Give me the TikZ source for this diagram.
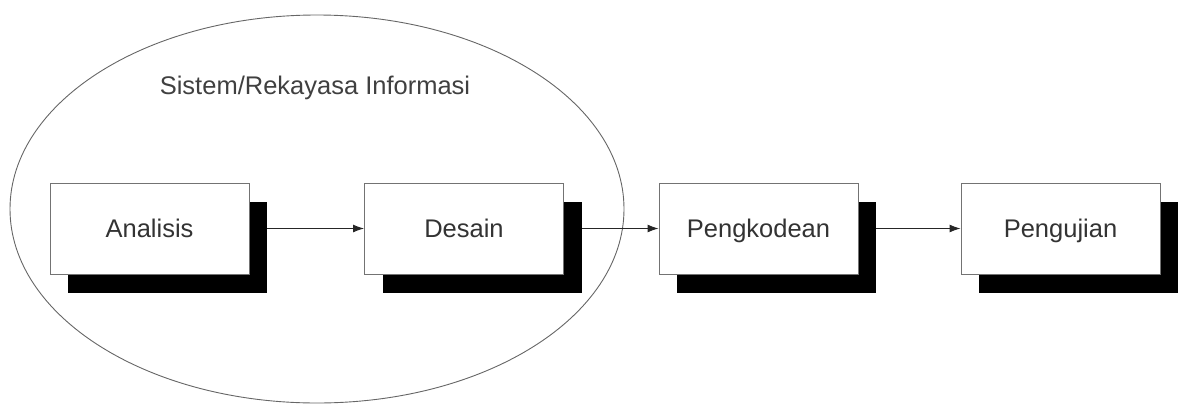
\documentclass[tikz,border=0pt]{standalone}
\usepackage{fontspec}
\setmainfont{Liberation Sans}
\usetikzlibrary{shapes.geometric,shadows,arrows.meta}
\tikzset{
  stage/.style={draw=black!55, line width=0.9pt, fill=white, minimum width=199pt, minimum height=91pt,
    inner sep=0pt, font=\fontsize{25.5}{30}\selectfont, text=black!80, text height=18.3pt, text depth=0pt,
    general shadow={fill=black, shadow xshift=18pt, shadow yshift=-19pt}},
  flow/.style={draw=black!85, line width=1pt, -{Latex[length=11pt,width=8pt]}},
  bigoval/.style={ellipse, draw=black!60, line width=0.9pt, minimum width=614pt, minimum height=388pt, inner sep=0pt},
  title/.style={font=\fontsize{25.5}{30}\selectfont, text=black!75, inner sep=0pt}
}
\begin{document}
\begin{tikzpicture}[x=1pt,y=-1pt]
\useasboundingbox (0,0) rectangle (1181,405);
\node[bigoval] (oval) at (317,209) {};
\node[title] (t) at (315,88) {Sistem/Rekayasa Informasi};
\node[stage] (a) at (149.5,228.5) {Analisis};
\node[stage] (d) at (464,228.5) {Desain};
\node[stage] (p) at (758.5,228.5) {Pengkodean};
\node[stage] (u) at (1060.5,228.5) {Pengujian};
\draw[flow] ([xshift=18pt]a.east) -- (d.west);
\draw[flow] ([xshift=18pt]d.east) -- (p.west);
\draw[flow] ([xshift=18pt]p.east) -- (u.west);
\end{tikzpicture}
\end{document}
